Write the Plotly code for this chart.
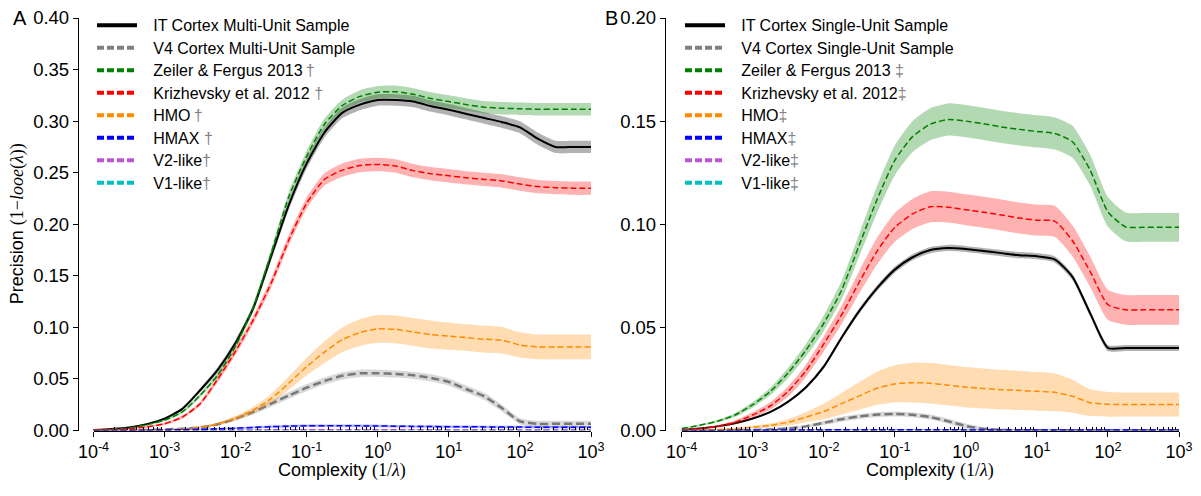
import plotly.graph_objects as go

W, H = 1201, 496

# complexity grid, as exponents of 10 (1/lambda)
EXPONENTS = [-4.0, -3.75, -3.5, -3.25, -3.0, -2.75, -2.5, -2.25, -2.0, -1.75,
             -1.5, -1.25, -1.0, -0.75, -0.5, -0.25, 0.0, 0.25, 0.5, 0.75,
             1.0, 1.25, 1.5, 1.75, 2.0, 2.25, 2.5, 2.75, 3.0]

# ---------------- Panel A: multi-unit ----------------
A_IT = [0.0005, 0.0015, 0.003, 0.0062, 0.0115, 0.021, 0.039, 0.059, 0.085, 0.119,
        0.169, 0.219, 0.259, 0.289, 0.308, 0.316, 0.3205, 0.3205, 0.319, 0.3145,
        0.311, 0.307, 0.303, 0.299, 0.294, 0.283, 0.275, 0.275, 0.275]
A_IT_ERR = [0.0002, 0.0003, 0.0005, 0.0008, 0.001, 0.0015, 0.002, 0.0025, 0.003, 0.0035,
            0.004, 0.0045, 0.005, 0.005, 0.0052, 0.0054, 0.0055, 0.0055, 0.0055, 0.0055,
            0.0055, 0.0055, 0.0056, 0.0057, 0.0058, 0.006, 0.006, 0.006, 0.006]
A_V4 = [0.0, 0.0001, 0.0002, 0.0005, 0.001, 0.0018, 0.003, 0.006, 0.0115, 0.018,
        0.026, 0.034, 0.0415, 0.048, 0.053, 0.0555, 0.0555, 0.0548, 0.0535, 0.051,
        0.047, 0.040, 0.033, 0.0215, 0.009, 0.0065, 0.0065, 0.0065, 0.0065]
A_V4_ERR = [0.0, 0.0001, 0.0001, 0.0002, 0.0003, 0.0005, 0.0008, 0.0012, 0.0018, 0.0024,
            0.003, 0.0033, 0.0035, 0.0035, 0.0035, 0.0035, 0.0035, 0.0035, 0.0035, 0.0035,
            0.0035, 0.0035, 0.0035, 0.0033, 0.003, 0.003, 0.003, 0.003, 0.003]
A_ZF = [0.0004, 0.0012, 0.0025, 0.0055, 0.010, 0.018, 0.034, 0.054, 0.082, 0.120,
        0.172, 0.227, 0.266, 0.297, 0.315, 0.324, 0.328, 0.3285, 0.326, 0.322,
        0.319, 0.316, 0.3135, 0.3125, 0.312, 0.3115, 0.3115, 0.3115, 0.3115]
A_ZF_ERR = [0.0002, 0.0003, 0.0005, 0.0008, 0.001, 0.0015, 0.002, 0.0025, 0.003, 0.0035,
            0.004, 0.0045, 0.005, 0.0055, 0.0058, 0.006, 0.006, 0.006, 0.006, 0.006,
            0.006, 0.006, 0.006, 0.006, 0.006, 0.006, 0.006, 0.006, 0.006]
A_KR = [0.0003, 0.0008, 0.0017, 0.0035, 0.0065, 0.013, 0.026, 0.050, 0.077, 0.1075,
        0.143, 0.185, 0.2205, 0.2435, 0.2525, 0.257, 0.258, 0.2565, 0.252, 0.249,
        0.247, 0.245, 0.2435, 0.242, 0.239, 0.2365, 0.2355, 0.235, 0.235]
A_KR_ERR = [0.0002, 0.0003, 0.0005, 0.0008, 0.001, 0.0015, 0.002, 0.003, 0.0035, 0.004,
            0.0045, 0.005, 0.0055, 0.006, 0.0065, 0.0065, 0.0065, 0.0065, 0.0065, 0.0065,
            0.0065, 0.0065, 0.0065, 0.0065, 0.0065, 0.0065, 0.0065, 0.0065, 0.0065]
A_HMO = [0.0, 0.0001, 0.0002, 0.0004, 0.0008, 0.0015, 0.003, 0.0065, 0.012, 0.020,
         0.031, 0.046, 0.062, 0.076, 0.088, 0.095, 0.0985, 0.098, 0.0955, 0.093,
         0.0915, 0.090, 0.0885, 0.0875, 0.083, 0.081, 0.081, 0.081, 0.081]
A_HMO_ERR = [0.0, 0.0001, 0.0001, 0.0002, 0.0003, 0.0005, 0.0008, 0.0013, 0.002, 0.003,
             0.0045, 0.0065, 0.0085, 0.0105, 0.012, 0.013, 0.0135, 0.0135, 0.0135, 0.0135,
             0.0133, 0.013, 0.013, 0.0128, 0.0122, 0.012, 0.012, 0.012, 0.012]
A_HMAX = [0.0, 0.0001, 0.0002, 0.0003, 0.0005, 0.0008, 0.0012, 0.0017, 0.0023, 0.003,
          0.0037, 0.0042, 0.0045, 0.0046, 0.0046, 0.0045, 0.0044, 0.0042, 0.004, 0.0038,
          0.0037, 0.0036, 0.0035, 0.0034, 0.0033, 0.0032, 0.0032, 0.0032, 0.0032]
A_HMAX_ERR = [0.0, 0.0, 0.0001, 0.0001, 0.0002, 0.0003, 0.0005, 0.0007, 0.0009, 0.001,
              0.0011, 0.0012, 0.0012, 0.0012, 0.0012, 0.0012, 0.0012, 0.0012, 0.0012, 0.0012,
              0.0012, 0.0012, 0.0012, 0.0012, 0.0012, 0.0012, 0.0012, 0.0012, 0.0012]
A_V2 = [0.0, 0.0, 0.0, 0.0001, 0.0001, 0.0002, 0.0003, 0.0004, 0.0005, 0.0006,
        0.0007, 0.0008, 0.0008, 0.0008, 0.0008, 0.0008, 0.0007, 0.0007, 0.0007, 0.0006,
        0.0006, 0.0006, 0.0006, 0.0006, 0.0005, 0.0005, 0.0005, 0.0005, 0.0005]
A_V1 = [0.0, 0.0, 0.0, 0.0, 0.0001, 0.0001, 0.0002, 0.0003, 0.0004, 0.0005,
        0.0005, 0.0006, 0.0006, 0.0006, 0.0006, 0.0006, 0.0006, 0.0005, 0.0005, 0.0005,
        0.0005, 0.0005, 0.0004, 0.0004, 0.0004, 0.0004, 0.0004, 0.0004, 0.0004]
A_V_ERR = [0.0002] * 29

# ---------------- Panel B: single-unit ----------------
B_IT = [0.0003, 0.001, 0.002, 0.0035, 0.0058, 0.009, 0.014, 0.021, 0.031, 0.045,
        0.058, 0.069, 0.078, 0.084, 0.0875, 0.0885, 0.088, 0.087, 0.086, 0.085,
        0.0845, 0.083, 0.0745, 0.0568, 0.040, 0.040, 0.040, 0.040, 0.040]
B_IT_ERR = [0.0001, 0.0001, 0.0002, 0.0003, 0.0004, 0.0005, 0.0006, 0.0008, 0.001, 0.0012,
            0.0013, 0.0014, 0.0015, 0.0015, 0.0015, 0.0015, 0.0015, 0.0015, 0.0015, 0.0015,
            0.0015, 0.0015, 0.0015, 0.0015, 0.0015, 0.0015, 0.0015, 0.0015, 0.0015]
B_V4 = [0.0, 0.0, 0.0001, 0.0001, 0.0002, 0.0005, 0.001, 0.002, 0.0037, 0.0055,
        0.0068, 0.0077, 0.008, 0.0076, 0.0065, 0.0045, 0.0022, 0.0008, 0.0003, 0.0001,
        0.0001, 0.0001, 0.0001, 0.0001, 0.0001, 0.0001, 0.0001, 0.0001, 0.0001]
B_V4_ERR = [0.0, 0.0, 0.0, 0.0, 0.0001, 0.0002, 0.0004, 0.0007, 0.001, 0.0012,
            0.0012, 0.0012, 0.0012, 0.0012, 0.0012, 0.0012, 0.0012, 0.0008, 0.0005, 0.0003,
            0.0002, 0.0002, 0.0002, 0.0002, 0.0002, 0.0002, 0.0002, 0.0002, 0.0002]
B_ZF = [0.001, 0.0025, 0.0045, 0.0075, 0.0125, 0.019, 0.028, 0.039, 0.052, 0.068,
        0.090, 0.112, 0.131, 0.1425, 0.1485, 0.1508, 0.150, 0.1487, 0.1472, 0.146,
        0.145, 0.144, 0.140, 0.1262, 0.106, 0.0987, 0.0985, 0.0985, 0.0985]
B_ZF_ERR = [0.0002, 0.0004, 0.0006, 0.0009, 0.0013, 0.0018, 0.0025, 0.003, 0.0037, 0.0045,
            0.0055, 0.0065, 0.0072, 0.0076, 0.0078, 0.0078, 0.0078, 0.0078, 0.0078, 0.0078,
            0.0078, 0.0078, 0.0078, 0.0075, 0.0072, 0.007, 0.007, 0.007, 0.007]
B_KR = [0.0003, 0.0009, 0.002, 0.004, 0.0075, 0.012, 0.019, 0.029, 0.042, 0.056,
        0.072, 0.087, 0.0985, 0.105, 0.1085, 0.1083, 0.107, 0.1058, 0.1045, 0.103,
        0.102, 0.1015, 0.092, 0.077, 0.061, 0.0585, 0.0585, 0.0585, 0.0585]
B_KR_ERR = [0.0002, 0.0004, 0.0006, 0.0009, 0.0013, 0.0018, 0.0025, 0.003, 0.0037, 0.0045,
            0.0055, 0.0065, 0.007, 0.0073, 0.0075, 0.0075, 0.0075, 0.0075, 0.0075, 0.0075,
            0.0075, 0.0075, 0.0075, 0.0074, 0.0073, 0.0072, 0.0072, 0.0072, 0.0072]
B_HMO = [0.0, 0.0002, 0.0004, 0.0009, 0.0016, 0.0025, 0.004, 0.0065, 0.0092, 0.013,
         0.0168, 0.0205, 0.0226, 0.0232, 0.0229, 0.022, 0.021, 0.0204, 0.0198, 0.0194,
         0.019, 0.0185, 0.0166, 0.0135, 0.0127, 0.0126, 0.0126, 0.0126, 0.0126]
B_HMO_ERR = [0.0, 0.0001, 0.0002, 0.0004, 0.0006, 0.001, 0.0016, 0.0025, 0.0038, 0.0052,
             0.0067, 0.008, 0.009, 0.0096, 0.0098, 0.0098, 0.0098, 0.0097, 0.0096, 0.0095,
             0.0094, 0.0092, 0.008, 0.0065, 0.006, 0.0058, 0.0058, 0.0058, 0.0058]
B_HMAX = [0.0, 0.0, 0.0, 0.0001, 0.0001, 0.0002, 0.0002, 0.0003, 0.0003, 0.0004,
          0.0004, 0.0004, 0.0004, 0.0004, 0.0004, 0.0004, 0.0003, 0.0003, 0.0003, 0.0003,
          0.0003, 0.0003, 0.0003, 0.0003, 0.0003, 0.0003, 0.0003, 0.0003, 0.0003]
B_HMAX_ERR = [0.0003] * 29
B_V2 = [0.0001] * 29
B_V1 = [0.0001] * 29
B_V_ERR = [0.0001] * 29

COMPLEXITY = [10 ** e for e in EXPONENTS]

# axis tick labels
DECADES = [-4, -3, -2, -1, 0, 1, 2, 3]
DECADE_LABELS = ["10<sup>-4</sup>", "10<sup>-3</sup>", "10<sup>-2</sup>", "10<sup>-1</sup>",
                 "10<sup>0</sup>", "10<sup>1</sup>", "10<sup>2</sup>", "10<sup>3</sup>"]
MINOR_DIGITS = [2, 3, 4, 5, 6, 7, 8, 9]

# series styling: line colour, band rgba, data line width, dash
STYLES = {
    "IT":   ("black", "rgba(0,0,0,0.3)", 2.0, "solid"),
    "V4":   ("#777777", "rgba(128,128,128,0.3)", 2.5, "8px,4px"),
    "ZF":   ("green", "rgba(0,128,0,0.3)", 1.5, "6px,3px"),
    "KR":   ("red", "rgba(255,0,0,0.3)", 1.5, "6px,3px"),
    "HMO":  ("darkorange", "rgba(255,140,0,0.3)", 1.5, "6px,3px"),
    "HMAX": ("blue", "rgba(0,0,255,0.3)", 1.5, "6px,3px"),
    "V2":   ("mediumorchid", "rgba(186,85,211,0.3)", 1.5, "6px,3px"),
    "V1":   ("#00bfbf", "rgba(0,191,191,0.3)", 1.5, "6px,3px"),
}

MARK = "<span style='color:#808080'>{}</span>"
LABELS_A = {
    "IT": "IT Cortex Multi-Unit Sample",
    "V4": "V4 Cortex Multi-Unit Sample",
    "ZF": "Zeiler & Fergus 2013\u2009" + MARK.format("\u2020"),
    "KR": "Krizhevsky et al. 2012 " + MARK.format("\u2020"),
    "HMO": "HMO\u2009" + MARK.format("\u2020"),
    "HMAX": "HMAX " + MARK.format("\u2020"),
    "V2": "V2-like" + MARK.format("\u2020"),
    "V1": "V1-like" + MARK.format("\u2020"),
}
LABELS_B = {
    "IT": "IT Cortex Single-Unit Sample",
    "V4": "V4 Cortex Single-Unit Sample",
    "ZF": "Zeiler & Fergus 2013 " + MARK.format("\u2021"),
    "KR": "Krizhevsky et al. 2012" + MARK.format("\u2021"),
    "HMO": "HMO" + MARK.format("\u2021"),
    "HMAX": "HMAX" + MARK.format("\u2021"),
    "V2": "V2-like" + MARK.format("\u2021"),
    "V1": "V1-like" + MARK.format("\u2021"),
}

PANEL_A = [("V1", A_V1, A_V_ERR), ("V2", A_V2, A_V_ERR), ("IT", A_IT, A_IT_ERR),
           ("V4", A_V4, A_V4_ERR), ("ZF", A_ZF, A_ZF_ERR), ("KR", A_KR, A_KR_ERR),
           ("HMO", A_HMO, A_HMO_ERR), ("HMAX", A_HMAX, A_HMAX_ERR)]
PANEL_B = [("V1", B_V1, B_V_ERR), ("V2", B_V2, B_V_ERR), ("IT", B_IT, B_IT_ERR),
           ("V4", B_V4, B_V4_ERR), ("ZF", B_ZF, B_ZF_ERR), ("KR", B_KR, B_KR_ERR),
           ("HMO", B_HMO, B_HMO_ERR), ("HMAX", B_HMAX, B_HMAX_ERR)]
LEGEND_ORDER = ["IT", "V4", "ZF", "KR", "HMO", "HMAX", "V2", "V1"]

fig = go.Figure()
SMOOTH = dict(shape="spline", smoothing=0.6)


def legend_text(label):
    # glyphs slightly larger than the row pitch implies, with a gap after the key line
    return "<span style='font-size:16px'>\u2002\u2009" + label + "</span>"


def add_panel(series, labels, xa, ya, legend_name):
    for key, vals, err in series:
        color, band, lw, dash = STYLES[key]
        lo = [v - e for v, e in zip(vals, err)]
        hi = [v + e for v, e in zip(vals, err)]
        fig.add_trace(go.Scatter(x=COMPLEXITY, y=lo, mode="lines", line=dict(width=0, **SMOOTH),
                                 xaxis=xa, yaxis=ya, showlegend=False, hoverinfo="skip"))
        fig.add_trace(go.Scatter(x=COMPLEXITY, y=hi, mode="lines", line=dict(width=0, **SMOOTH),
                                 fill="tonexty", fillcolor=band,
                                 xaxis=xa, yaxis=ya, showlegend=False, hoverinfo="skip"))
        fig.add_trace(go.Scatter(x=COMPLEXITY, y=vals, mode="lines",
                                 line=dict(color=color, width=lw, dash=dash, **SMOOTH),
                                 xaxis=xa, yaxis=ya, showlegend=False, name=labels[key]))
    # legend keys
    for key in LEGEND_ORDER:
        color = "#808080" if key == "V4" else STYLES[key][0]
        dash = "solid" if key == "IT" else "7px,3px"
        fig.add_trace(go.Scatter(x=[None], y=[None], mode="lines",
                                 line=dict(color=color, width=4, dash=dash),
                                 name=legend_text(labels[key]), xaxis=xa, yaxis=ya,
                                 showlegend=True, legend=legend_name))


add_panel(PANEL_A, LABELS_A, "x", "y", "legend")
add_panel(PANEL_B, LABELS_B, "x2", "y2", "legend2")

FONT = "Liberation Sans, Arial, Helvetica, sans-serif"
MATH = "Liberation Serif, DejaVu Serif, serif"

XA = [93.5 / W, 591 / W]
XB = [681.7 / W, 1179 / W]
YD = [(H - 430.5) / H, (H - 18) / H]

common_x = dict(type="log", range=[-4, 3],
                tickmode="array",
                tickvals=[10 ** d for d in DECADES], ticktext=DECADE_LABELS,
                showline=True, linecolor="black", linewidth=1.3,
                ticks="outside", ticklen=5, tickwidth=1.3, tickcolor="black",
                showgrid=False, zeroline=False,
                tickfont=dict(family=FONT, size=18, color="black"),
                minor=dict(ticks="inside", ticklen=3, tickwidth=1, tickcolor="black",
                           tickmode="array",
                           tickvals=[m * 10 ** d for d in DECADES[:-1] for m in MINOR_DIGITS],
                           showgrid=False))
common_y = dict(showline=True, linecolor="black", linewidth=1.3,
                ticks="outside", ticklen=5, tickwidth=1.3, tickcolor="black",
                showgrid=False, zeroline=False, tickformat=".2f", dtick=0.05,
                tickfont=dict(family=FONT, size=18.5, color="black"), anchor="free")

legend_common = dict(bgcolor="rgba(0,0,0,0)", borderwidth=0, itemwidth=40,
                     font=dict(family=FONT, size=15, color="black"),
                     xanchor="left", yanchor="top", traceorder="normal",
                     itemclick=False, itemdoubleclick=False)

fig.update_layout(
    width=W, height=H,
    margin=dict(l=0, r=0, t=0, b=0, autoexpand=False),
    paper_bgcolor="white", plot_bgcolor="white",
    font=dict(family=FONT, size=16, color="black"),
    xaxis=dict(domain=XA, anchor="y", **common_x),
    xaxis2=dict(domain=XB, anchor="y2", **common_x),
    yaxis=dict(domain=YD, range=[0, 0.4], position=78 / W, **common_y),
    yaxis2=dict(domain=YD, range=[0, 0.2], position=665 / W, **common_y),
    legend=dict(x=92 / W, y=1 - 9 / H, **legend_common),
    legend2=dict(x=680 / W, y=1 - 9 / H, **legend_common),
    showlegend=True,
)

ann = []
# panel letters
ann.append(dict(text="A", x=11 / W, y=1 - 5 / H, xref="paper", yref="paper",
                xanchor="left", yanchor="top", showarrow=False, font=dict(family=FONT, size=20)))
ann.append(dict(text="B", x=603 / W, y=1 - 5 / H, xref="paper", yref="paper",
                xanchor="left", yanchor="top", showarrow=False, font=dict(family=FONT, size=20)))
# axis titles
xtitle = "Complexity <span style='font-family:" + MATH + "'>(1/<i>\u03bb</i>)</span>"
for dom in (XA, XB):
    ann.append(dict(text=xtitle, x=(dom[0] + dom[1]) / 2, y=(H - 470) / H, xref="paper", yref="paper",
                    xanchor="center", yanchor="middle", showarrow=False,
                    font=dict(family=FONT, size=18)))
ytitle = ("Precision <span style='font-family:" + MATH + "'>(1\u2212<i>looe</i>(<i>\u03bb</i>))</span>")
ann.append(dict(text=ytitle, x=17 / W, y=(YD[0] + YD[1]) / 2, xref="paper", yref="paper",
                xanchor="center", yanchor="middle", textangle=-90, showarrow=False,
                font=dict(family=FONT, size=18)))
fig.update_layout(annotations=ann)

fig.write_html("out.html")
